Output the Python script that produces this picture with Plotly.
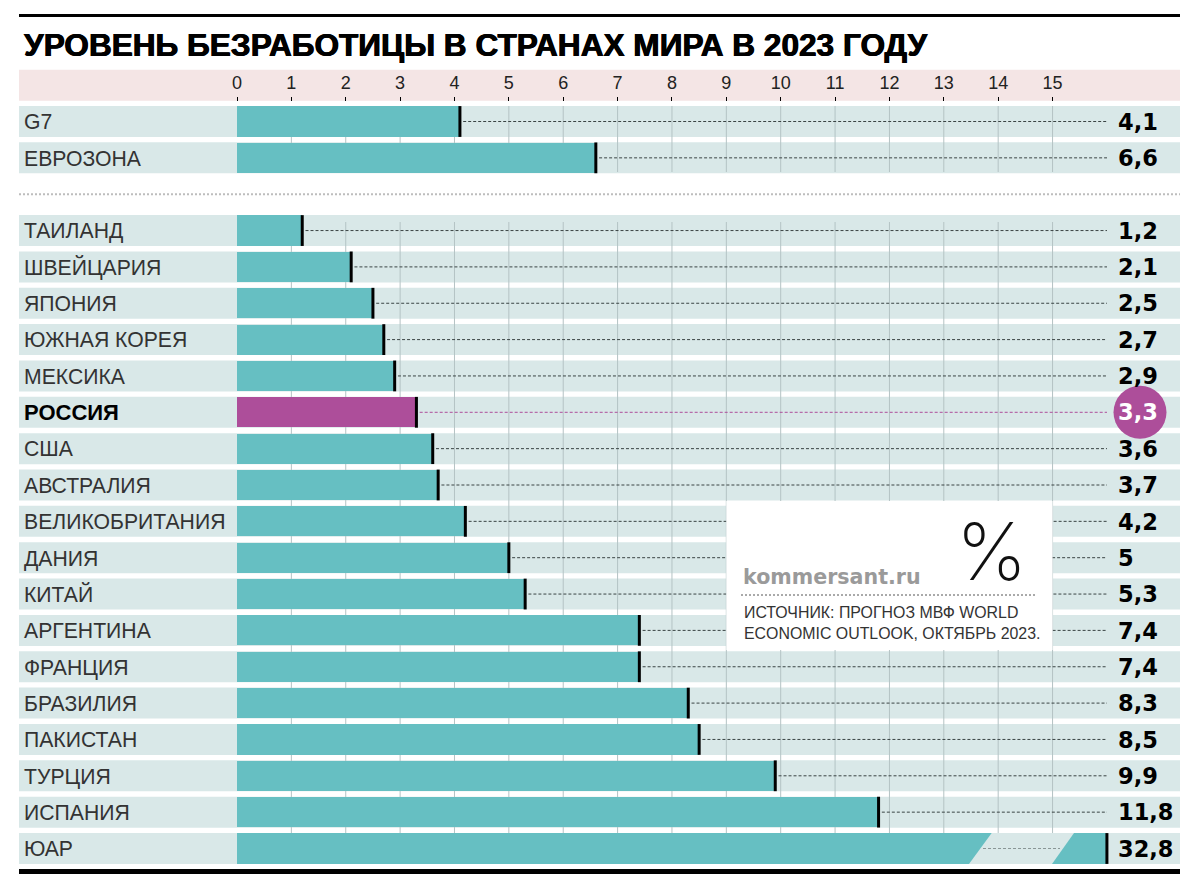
import plotly.graph_objects as go

TITLE = "УРОВЕНЬ БЕЗРАБОТИЦЫ В СТРАНАХ МИРА В 2023 ГОДУ"
groups = ["G7", "ЕВРОЗОНА"]
group_values = [4.1, 6.6]
countries = ["ТАИЛАНД", "ШВЕЙЦАРИЯ", "ЯПОНИЯ", "ЮЖНАЯ КОРЕЯ", "МЕКСИКА", "РОССИЯ", "США", "АВСТРАЛИЯ",
             "ВЕЛИКОБРИТАНИЯ", "ДАНИЯ", "КИТАЙ", "АРГЕНТИНА", "ФРАНЦИЯ", "БРАЗИЛИЯ", "ПАКИСТАН",
             "ТУРЦИЯ", "ИСПАНИЯ", "ЮАР"]
country_values = [1.2, 2.1, 2.5, 2.7, 2.9, 3.3, 3.6, 3.7, 4.2, 5, 5.3, 7.4, 7.4, 8.3, 8.5, 9.9, 11.8, 32.8]
ticks = list(range(0, 16))

TEAL, ROW, HEAD, PURPLE, GRID = "#66BFC2", "#D9E8E8", "#F4E5E5", "#AD4E9A", "#B4C3C4"
W, H = 1200, 890
X0, XU = 237, 54.37      # pixel of 0, pixels per unit
Y0, YU = 121.5, 36.35    # pixel of row 0, pixels per row
px = lambda p: (p - X0) / XU
py = lambda p: (p - Y0) / YU
AXIS_CAP = 16.0          # the broken bar ends here on the drawn scale

labels = groups + countries
values = group_values + country_values
rows = list(range(len(groups))) + [len(groups) + 1 + i for i in range(len(countries))]
shown = [min(v, AXIS_CAP) for v in values]
fmt = lambda v: str(v).replace(".", ",")
hi = labels.index("РОССИЯ")
LEFT, RIGHT = px(19), px(1180)
TXT = 0.07  # text baseline nudge, in rows

shapes = [dict(type="rect", layer="below", xref="x", yref="y", x0=LEFT, x1=RIGHT, y0=-1.426, y1=-0.574,
               fillcolor=HEAD, line_width=0)]
for r in rows:
    shapes.append(dict(type="rect", layer="below", xref="x", yref="y", x0=LEFT, x1=RIGHT,
                       y0=r - 0.426, y1=r + 0.426, fillcolor=ROW, line_width=0))
for t in ticks[1:]:
    for a, b in ((py(106), py(172)), (py(222), py(833))):
        shapes.append(dict(type="line", layer="below", xref="x", yref="y", x0=t, x1=t, y0=a, y1=b,
                           line=dict(color=GRID, width=1)))
shapes += [
    dict(type="line", xref="x", yref="y", x0=LEFT, x1=RIGHT, y0=2, y1=2, layer="below",
         line=dict(color="#BDBDBD", width=2, dash="2px,2px")),
    dict(type="line", xref="paper", yref="paper", x0=19/W, x1=1180/W, y0=1-15.5/H, y1=1-15.5/H,
         line=dict(color="#000", width=3)),
    dict(type="line", xref="paper", yref="paper", x0=19/W, x1=1180/W, y0=1-871.5/H, y1=1-871.5/H,
         line=dict(color="#000", width=5)),
    dict(type="rect", layer="above", xref="x", yref="y", x0=9.0, x1=15.0, y0=py(501), y1=py(650),
         fillcolor="#fff", line_width=0),
    dict(type="line", layer="above", xref="paper", yref="paper", x0=741/W, x1=1037/W, y0=1-595/H, y1=1-595/H,
         line=dict(color="#555", width=1, dash="2px,2px")),
]

fig = go.Figure()
fig.add_bar(x=shown, y=rows, orientation="h", width=0.83,
            marker=dict(color=[PURPLE if i == hi else TEAL for i in range(len(rows))], line_width=0),
            hoverinfo="skip")

# slanted break of the last bar
rz = rows[-1]
fig.add_scatter(x=[px(991.7), px(1074), px(1052), px(969), px(991.7)],
                y=[rz - 0.426, rz - 0.426, rz + 0.426, rz + 0.426, rz - 0.426],
                mode="lines", fill="toself", fillcolor=ROW, line_width=0, hoverinfo="skip")

# dashed leaders
for i, r in enumerate(rows):
    if i == len(rows) - 1:
        continue
    fig.add_scatter(x=[shown[i] + 0.06, px(1107)], y=[r, r], mode="lines", hoverinfo="skip",
                    line=dict(color=PURPLE if i == hi else "#3A4444", width=1, dash="3px,2px"))
fig.add_scatter(x=[px(983), px(1060)], y=[rz, rz], mode="lines", hoverinfo="skip",
                line=dict(color="#8A9696", width=1, dash="3px,2px"))

# bar end caps
fig.add_scatter(x=shown, y=rows, mode="markers", hoverinfo="skip",
                marker=dict(symbol="line-ns", size=22, color="#000", line=dict(color="#000", width=3)))

# highlight circle
fig.add_scatter(x=[px(1140)], y=[rows[hi]], mode="markers", hoverinfo="skip",
                marker=dict(size=53, color=PURPLE, line_width=0))

# row names
fig.add_scatter(x=[px(24)] * len(rows), y=[r + TXT for r in rows], text=labels, mode="text",
                textposition="middle right", hoverinfo="skip",
                textfont=dict(family=["Liberation Sans"] * len(rows),
                              size=[22 if i == hi else 21.2 for i in range(len(rows))],
                              color=["#000" if i == hi else "#333" for i in range(len(rows))],
                              weight=[700 if i == hi else 400 for i in range(len(rows))]))
# values
fig.add_scatter(x=[px(1118)] * len(rows), y=[r + TXT for r in rows], text=[fmt(v) for v in values], mode="text",
                textposition="middle right", hoverinfo="skip",
                textfont=dict(family="DejaVu Sans", size=22.5, weight=700,
                              color=["#fff" if i == hi else "#000" for i in range(len(rows))]))

ann = [
    dict(xref="paper", yref="paper", x=954/W, y=1-550/H, text="%", showarrow=False, xanchor="left", yanchor="middle",
         font=dict(family="Inter", size=80, color="#111", weight=200)),
    dict(xref="paper", yref="paper", x=741/W, y=1-577/H, text="kommersant.ru", showarrow=False, xanchor="left",
         yanchor="middle", font=dict(family="DejaVu Sans", size=20.6, color="#9A9A9A", weight=700)),
    dict(xref="paper", yref="paper", x=742/W, y=1-612.5/H, text="ИСТОЧНИК: ПРОГНОЗ МВФ WORLD", showarrow=False,
         xanchor="left", yanchor="middle", font=dict(family="Liberation Sans", size=15.9, color="#333")),
    dict(xref="paper", yref="paper", x=742/W, y=1-633.5/H, text="ECONOMIC OUTLOOK, ОКТЯБРЬ 2023.", showarrow=False,
         xanchor="left", yanchor="middle", font=dict(family="Liberation Sans", size=15.9, color="#333")),
]

fig.update_layout(
    width=W, height=H, margin=dict(l=0, r=0, t=0, b=0, pad=0), autosize=False,
    paper_bgcolor="#fff", plot_bgcolor="#fff", showlegend=False, shapes=shapes, annotations=ann,
    bargap=0,
    title=dict(text=TITLE, x=24/W, xanchor="left", xref="paper", y=1-44.5/H, yanchor="middle", yref="paper",
               font=dict(family="Liberation Sans", size=31.6, color="#000", weight=700,
                         shadow="0.5px 0 0 #000, -0.5px 0 0 #000")),
    xaxis=dict(range=[px(0), px(W)], anchor="free", position=1-101/H, side="top", tickmode="array",
               tickvals=ticks, ticktext=[str(t) for t in ticks], ticks="outside", ticklen=4, tickwidth=1,
               tickcolor="#000", showgrid=False, zeroline=False, showline=False, fixedrange=True,
               tickangle=0, ticklabelstandoff=1,
               tickfont=dict(family="Liberation Sans", size=18, color="#222")),
    yaxis=dict(range=[py(H), py(0)], domain=[0, 1], visible=False, fixedrange=True),
)
fig.write_html("out.html", config=dict(displayModeBar=False),
               post_script="document.body.style.margin='0';")
